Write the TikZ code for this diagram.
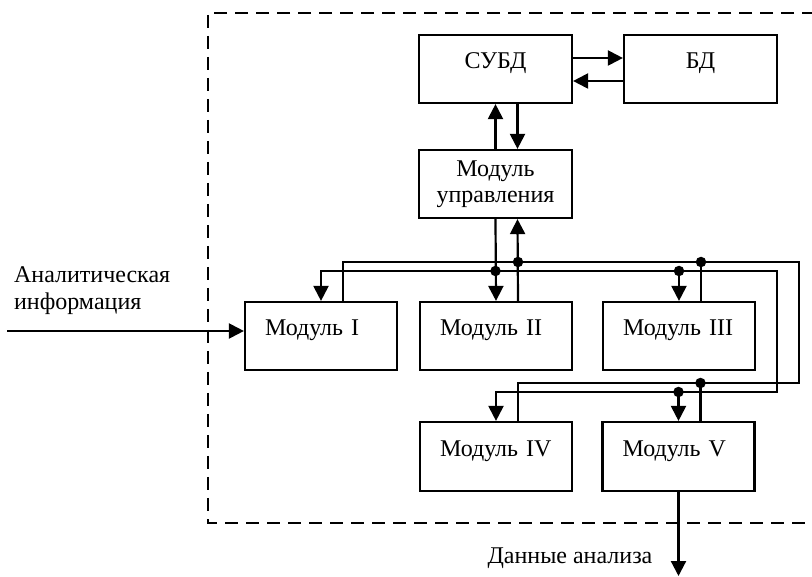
\documentclass[tikz,border=0pt]{standalone}
\usepackage{fontspec}
\setmainfont{Liberation Serif}
\usetikzlibrary{arrows.meta}
\begin{document}
\begin{tikzpicture}[x=1pt,y=-1pt,line width=2.2pt,
  txt/.style={font=\fontsize{24}{26.5}\selectfont},
  frame/.style={draw, line width=2.2pt, txt, minimum width=153pt, minimum height=68pt, inner sep=0pt},
  onel/.style={frame, text height=8pt, text depth=8pt},
  modbox/.style={onel, text width=112pt, inner xsep=20pt, align=left, minimum width=152pt},
  arr/.style={-{Triangle[length=15pt,width=15pt]}},
  dot/.style={circle, fill, inner sep=0pt, minimum size=10.5pt},
  lbl/.style={txt, inner sep=0pt}]
\useasboundingbox (0,0) rectangle (812,577);
% dashed frame
\draw[dash pattern=on 13pt off 8pt] (815,13) -- (208,13) -- (208,523) -- (815,523);
% boxes
\node[onel] (subd) at (495.5,69) {СУБД};
\node[onel] (bd) at (700.5,69) {БД};
\node[frame, align=center] (upr) at (495.5,184) {Модуль\\управления};
\node[modbox] (m1) at (321,336) {Модуль I};
\node[modbox] (m2) at (496,336) {Модуль II};
\node[modbox] (m3) at (679,336) {Модуль III};
\node[modbox, minimum height=69pt] (m4) at (496,456.5) {Модуль IV};
\node[modbox, minimum height=69pt] (m5) at (678.5,456.5) {Модуль V};
% labels
\node[lbl, align=left, anchor=north west] (ai) at (13,266) {Аналитическая\\информация};
\node[lbl, anchor=base] (dl) at (570,563) {Данные анализа};
% helper coordinates
\coordinate (yA) at (0,262);
\coordinate (yB) at (0,271);
\coordinate (yC) at (0,383);
\coordinate (yD) at (0,392);
\coordinate (xA) at (799,0);
\coordinate (xB) at (777,0);
\coordinate (m1r) at ([xshift=22pt]m1.north);
\coordinate (m2r) at ([xshift=22pt]m2.north);
\coordinate (m3r) at ([xshift=22pt]m3.north);
\coordinate (m4r) at ([xshift=22pt]m4.north);
\coordinate (m5r) at ([xshift=22pt]m5.north);
\coordinate (uprr) at ([xshift=22pt]upr.south);
\coordinate (in) at (7,331);
\coordinate (out) at (678.5,576);
% СУБД <-> БД
\draw[arr] ([yshift=11pt]subd.east) -- ([yshift=11pt]bd.west);
\draw[arr] ([yshift=-12pt]bd.west) -- ([yshift=-12pt]subd.east);
% СУБД <-> управление
\draw[arr] (upr.north) -- (subd.south);
\draw[arr] ([xshift=22pt]subd.south) -- ([xshift=22pt]upr.north);
% управление <-> модуль II
\draw[arr] (upr.south) -- (m2.north);
\draw[arr] (m2r) -- (uprr);
% outgoing bus
\draw[arr] (upr.south |- yB) -| (m1.north);
\draw[arr] (upr.south |- yB) -- (xB |- yB) -- (xB |- yD) -| (m4.north);
\draw[arr] (m3.north |- yB) -- (m3.north);
\draw[arr] (m5.north |- yD) -- (m5.north);
% return bus
\draw (m1r) |- (xA |- yA) -- (xA |- yC) -| (m4r);
\draw (m3r) -- (m3r |- yA);
\draw (m5r) -- (m5r |- yC);
% junction dots
\node[dot] (d1) at (upr.south |- yB) {};
\node[dot] (d2) at (m3.north |- yB) {};
\node[dot] (d3) at (m5.north |- yD) {};
\node[dot] (d4) at (m2r |- yA) {};
\node[dot] (d5) at (m3r |- yA) {};
\node[dot] (d6) at (m5r |- yC) {};
% input / output
\draw[arr] (in) -- (m1.west |- in);
\draw[arr] (m5.south) -- (out);
\end{tikzpicture}
\end{document}
